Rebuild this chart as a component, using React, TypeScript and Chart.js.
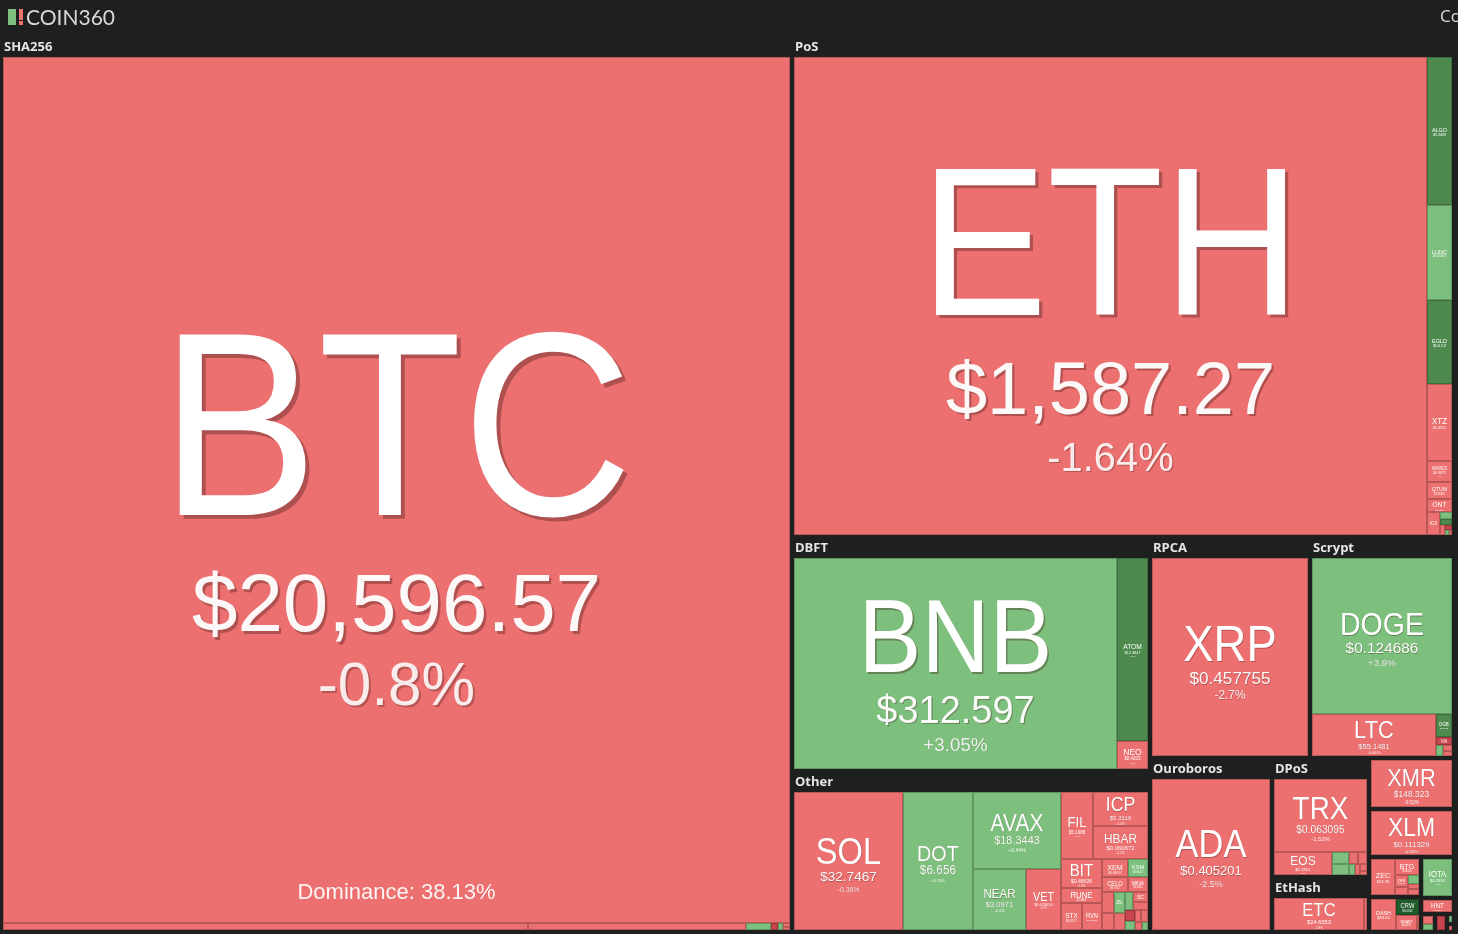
import React, { useEffect, useRef } from 'react';
import { Chart, registerables } from 'chart.js';

Chart.register(...registerables);

const CANVAS_W = 1458;
const CANVAS_H = 934;
const BG = '#1e2020';

// ---- groups (consensus algorithms) ----
const groupNames = [
  'SHA256', 'PoS', 'DBFT', 'Other', 'RPCA', 'Scrypt', 'Ouroboros', 'DPoS', 'EtHash',
  'CryptoNight', 'SCP', 'Equihash', 'X11', 'Tangle', 'PoC', 'Lyra2REv2', 'Blake256', 'Groestl', 'Keccak',
];

// ---- coins ----
const coinSymbols = [
  'BTC', 'BCH', 'BSV', 'XEC', 'FB', 'ELA', 'NMC', 'PPC',
  'ETH', 'ALGO', 'LUNC', 'EGLD', 'XTZ', 'WAVES', 'QTUM', 'ONT', 'ICX', 'NULS', 'ARK', 'STRAX', 'WAN', 'IOST', 'ARDR',
  'BNB', 'ATOM', 'NEO',
  'SOL', 'DOT', 'AVAX', 'NEAR', 'VET', 'FIL', 'ICP', 'HBAR', 'BIT', 'RUNE', 'STX', 'RVN', 'XEM', 'CELO', 'KSM',
  'MINA', 'KLAY', 'ZIL', 'KAVA', 'ONE', 'FLUX', 'SC', 'GLMR', 'KDA', 'SYS', 'HIVE', 'XDC', 'ROSE', 'LSK',
  'XRP',
  'DOGE', 'LTC', 'DGB', 'VIA', 'FTC', 'XVG', 'EMC2',
  'ADA',
  'TRX', 'EOS', 'WAXP', 'STEEM', 'BTS', 'TLOS', 'GXC', 'BEAM', 'SBD', 'NAS',
  'ETC', 'UBQ',
  'XMR',
  'XLM',
  'ZEC', 'BTG', 'ZEN', 'KMD', 'ZCL', 'ZER', 'BTCZ',
  'DASH', 'CRW', 'SMART', 'XVC',
  'IOTA',
  'HNT',
  'VTC', 'MONA',
  'DCR',
  'GRS',
  'SMT',
];

const coinGroup = [
  0, 0, 0, 0, 0, 0, 0, 0,
  1, 1, 1, 1, 1, 1, 1, 1, 1, 1, 1, 1, 1, 1, 1,
  2, 2, 2,
  3, 3, 3, 3, 3, 3, 3, 3, 3, 3, 3, 3, 3, 3, 3,
  3, 3, 3, 3, 3, 3, 3, 3, 3, 3, 3, 3, 3, 3,
  4,
  5, 5, 5, 5, 5, 5, 5,
  6,
  7, 7, 7, 7, 7, 7, 7, 7, 7, 7,
  8, 8,
  9,
  10,
  11, 11, 11, 11, 11, 11, 11,
  12, 12, 12, 12,
  13,
  14,
  15, 15,
  16,
  17,
  18,
];

// market capitalisation, billions of USD (estimated from tile areas)
const coinValues = [
  391.9, 2.12, 0.88, 0.1, 0.03, 0.02, 0.015, 0.01,
  178.2, 2.175, 1.4, 1.235, 1.13, 0.31, 0.26, 0.19, 0.175, 0.05, 0.04, 0.03, 0.02, 0.015, 0.01,
  42.66, 3.54, 0.545,
  9.9, 6.36, 4.46, 2.13, 1.41, 1.39, 1.2, 1.18, 0.79, 0.4, 0.37, 0.34, 0.31, 0.26, 0.24,
  0.2, 0.17, 0.15, 0.13, 0.12, 0.1, 0.09, 0.08, 0.07, 0.06, 0.05, 0.05, 0.04, 0.03,
  19.75,
  14.0, 3.34, 0.233, 0.08, 0.05, 0.04, 0.03,
  11.86,
  4.85, 0.963, 0.15, 0.13, 0.08, 0.07, 0.05, 0.04, 0.03, 0.02,
  2.87, 0.08,
  2.4,
  2.31,
  0.59, 0.25, 0.1, 0.07, 0.06, 0.04, 0.04,
  0.55, 0.25, 0.2, 0.02,
  0.76,
  0.3,
  0.08, 0.06,
  0.12,
  0.04,
  0.03,
];

const coinPrices = [
  '$20,596.57', '$112.46', '$45.82', '$0.0000358', '$0.3012', '$1.6301', '$0.9512', '$0.3054',
  '$1,587.27', '$0.3469', '$0.000247', '$54.52', '$1.4512', '$3.9872', '$2.8461', '$0.2137', '$0.2513', '$0.1224', '$0.3391', '$0.6012', '$0.2374', '$0.0112', '$0.0924',
  '$312.597', '$12.3847', '$8.4203',
  '$32.7467', '$6.656', '$18.3443', '$3.0971', '$0.023614', '$5.1988', '$5.3116', '$0.060672', '$0.48626', '$1.3368', '$0.3127', '$0.02893', '$0.03917', '$0.7712', '$36.52',
  '$0.6311', '$0.2188', '$0.0297', '$1.4521', '$0.0213', '$0.6987', '$0.0038', '$0.4319', '$1.6301', '$0.1301', '$0.4512', '$0.0291', '$0.0553', '$0.9834',
  '$0.457755',
  '$0.124686', '$55.1481', '$0.0102', '$0.0321', '$0.0121', '$0.0034', '$0.0412',
  '$0.405201',
  '$0.063095', '$1.1851', '$0.0631', '$0.2212', '$0.0098', '$0.1923', '$0.5113', '$0.0712', '$2.4112', '$0.0412',
  '$24.6553', '$0.0612',
  '$148.323',
  '$0.111329',
  '$53.76', '$18.02', '$13.42', '$0.2612', '$0.0521', '$0.0912', '$0.0001',
  '$43.65', '$0.0312', '$0.0021', '$0.0311',
  '$0.2651',
  '$4.3218',
  '$0.2318', '$0.3512',
  '$28.41',
  '$0.3021',
  '$0.0112',
];

// 24h change, percent
const coinChanges = [
  -0.8, -1.21, -0.93, 1.2, -5.6, 1.1, -0.3, -2.4,
  -1.64, 6.1, 2.4, 5.6, -2.1, -1.0, -1.5, -1.8, -2.0, 1.0, 7.0, -3.0, -6.0, 1.5, -1.0,
  3.05, 5.8, -1.1,
  -0.39, 0.76, 0.44, 0.6, -1.9, -1.5, -1.2, -1.1, -1.3, -2.0, -1.5, -2.2, -1.8, -2.5, 1.9,
  -1.2, -2.3, 2.1, -1.4, -0.8, 1.4, -1.1, -3.2, -6.5, 0.9, -1.7, -2.6, -0.5, 3.1,
  -2.7,
  3.9, -0.66, 5.4, -6.2, 1.3, -1.9, -2.8,
  -2.5,
  -1.52, -1.3, 2.2, 1.1, -1.6, -2.1, 0.8, -1.2, -0.4, -3.3,
  -1.8, -0.9,
  -0.52,
  -0.55,
  -1.3, -0.7, -1.9, -2.1, 1.8, -1.1, -3.0,
  -1.1, 12.4, -2.2, -1.0,
  1.6,
  -2.4,
  -3.1, 1.2,
  -6.3,
  0.7,
  -1.4,
];

const dominanceCoin = 'BTC';
const dominanceLabel = 'Dominance: 38.13%';
const logoText = 'COIN360';
const topRightText = 'Coins';

// ---- helpers ----
const FONT = '"Liberation Sans", Arial, sans-serif';
const SYMBOL_SCALE_X = 0.9;

function colorFor(chg: number): string {
  if (chg >= 10) return '#1f5b2b';
  if (chg >= 5) return '#4e8a4e';
  if (chg >= 0) return '#7dbf7d';
  if (chg > -5) return '#ec706f';
  if (chg > -10) return '#c8444e';
  return '#8f2b33';
}

function fmtChange(c: number): string {
  return (c > 0 ? '+' : '') + String(c) + '%';
}

type Rect = { x0: number; y0: number; x1: number; y1: number };

// binary treemap tiling (same rule as d3.treemapBinary)
function binaryLayout(values: number[], r: Rect): Rect[] {
  const n = values.length;
  const out: Rect[] = new Array(n);
  const sums = [0];
  for (let i = 0; i < n; i++) sums.push(sums[i] + values[i]);
  function partition(i: number, j: number, value: number, x0: number, y0: number, x1: number, y1: number) {
    if (i >= j - 1) {
      out[i] = { x0, y0, x1, y1 };
      return;
    }
    const valueOffset = sums[i];
    const valueTarget = value / 2 + valueOffset;
    let k = i + 1;
    let hi = j - 1;
    while (k < hi) {
      const mid = (k + hi) >>> 1;
      if (sums[mid] < valueTarget) k = mid + 1;
      else hi = mid;
    }
    if (valueTarget - sums[k - 1] < sums[k] - valueTarget && i + 1 < k) --k;
    const valueLeft = sums[k] - valueOffset;
    const valueRight = value - valueLeft;
    if (x1 - x0 > y1 - y0) {
      const xk = value ? (x0 * valueRight + x1 * valueLeft) / value : x1;
      partition(i, k, valueLeft, x0, y0, xk, y1);
      partition(k, j, valueRight, xk, y0, x1, y1);
    } else {
      const yk = value ? (y0 * valueRight + y1 * valueLeft) / value : y1;
      partition(i, k, valueLeft, x0, y0, x1, yk);
      partition(k, j, valueRight, x0, yk, x1, y1);
    }
  }
  partition(0, n, sums[n], r.x0, r.y0, r.x1, r.y1);
  return out;
}

function unitWidth(ctx: CanvasRenderingContext2D, t: string): number {
  ctx.font = `100px ${FONT}`;
  return ctx.measureText(t).width / 100;
}

function drawTile(ctx: CanvasRenderingContext2D, x0: number, y0: number, x1: number, y1: number, ci: number) {
  const w = x1 - x0;
  const h = y1 - y0;
  if (w <= 0 || h <= 0) return;
  ctx.fillStyle = colorFor(coinChanges[ci]);
  ctx.fillRect(x0, y0, w, h);
  ctx.strokeStyle = 'rgba(0,0,0,0.22)';
  ctx.lineWidth = 1;
  ctx.strokeRect(x0 + 0.5, y0 + 0.5, Math.max(0, w - 1), Math.max(0, h - 1));
  if (w < 10 || h < 8) return;

  const sym = coinSymbols[ci];
  const price = coinPrices[ci];
  const chg = fmtChange(coinChanges[ci]);
  const S = Math.min((0.6 * w) / (unitWidth(ctx, sym) * SYMBOL_SCALE_X), 0.58 * h);
  if (S < 4) return;
  const P = Math.min((0.52 * w) / unitWidth(ctx, price), 0.18 * h);
  const C = Math.min((0.2 * w) / unitWidth(ctx, chg), 0.1 * h, P);
  const showP = P >= 2;
  const showC = showP && C >= 2;

  const capS = 0.716 * S;
  let blockH = capS;
  if (showP) blockH += 0.22 * S + 0.716 * P;
  if (showC) blockH += 0.38 * P + 0.716 * C;
  const cx = (x0 + x1) / 2;
  const cy = (y0 + y1) / 2;
  const top = cy - blockH / 2 + (showP ? 0.1 * S : 0);

  ctx.save();
  ctx.beginPath();
  ctx.rect(x0, y0, w, h);
  ctx.clip();
  ctx.textAlign = 'center';
  ctx.textBaseline = 'alphabetic';
  ctx.fillStyle = '#ffffff';

  const shadow = (size: number) => {
    if (size >= 12) {
      ctx.shadowColor = 'rgba(60,20,20,0.35)';
      ctx.shadowOffsetX = size * 0.015;
      ctx.shadowOffsetY = size * 0.015;
      ctx.shadowBlur = 0;
    } else {
      ctx.shadowColor = 'rgba(0,0,0,0)';
    }
  };

  const symBase = top + capS;
  shadow(S);
  ctx.save();
  ctx.translate(cx, symBase);
  ctx.scale(SYMBOL_SCALE_X, 1);
  ctx.font = `${S}px ${FONT}`;
  ctx.fillText(sym, 0, 0);
  ctx.restore();

  if (showP) {
    const pBase = symBase + 0.22 * S + 0.716 * P;
    shadow(P * 2);
    ctx.font = `${P}px ${FONT}`;
    ctx.fillStyle = 'rgba(255,255,255,0.96)';
    ctx.fillText(price, cx, pBase);
    if (showC) {
      const cBase = pBase + 0.38 * P + 0.716 * C;
      shadow(C * 2);
      ctx.font = `${C}px ${FONT}`;
      ctx.fillStyle = 'rgba(255,255,255,0.88)';
      ctx.fillText(chg, cx, cBase);
    }
  }

  if (sym === dominanceCoin) {
    ctx.shadowColor = 'rgba(0,0,0,0)';
    ctx.font = `22px ${FONT}`;
    ctx.fillStyle = 'rgba(255,255,255,0.92)';
    ctx.fillText(dominanceLabel, cx, y1 - 24);
  }
  ctx.restore();
}

const treemapPlugin = {
  id: 'coinTreemap',
  afterDraw(chart: any) {
    const ctx: CanvasRenderingContext2D = chart.ctx;
    const xs = chart.scales.x;
    const ys = chart.scales.y;
    const X = (v: number) => Math.round(xs.getPixelForValue(v));
    const Y = (v: number) => Math.round(ys.getPixelForValue(v));

    ctx.save();
    ctx.fillStyle = BG;
    ctx.fillRect(0, 0, chart.width, chart.height);

    // top bar: logo
    ctx.fillStyle = '#7dbf7d';
    ctx.fillRect(8, 9, 8, 16);
    ctx.fillStyle = '#ec706f';
    ctx.fillRect(19, 9, 4, 11);
    ctx.fillRect(19, 21, 4, 4);
    ctx.fillStyle = '#d8d8d8';
    ctx.font = '21px Lato, "Open Sans", sans-serif';
    ctx.textBaseline = 'alphabetic';
    ctx.textAlign = 'left';
    ctx.fillText(logoText, 26, 25);
    ctx.font = '17px "Open Sans", sans-serif';
    ctx.fillStyle = '#dddddd';
    ctx.fillText(topRightText, 1440, 22);

    // groups
    const root: Rect = { x0: 1, y0: 36, x1: 1454, y1: 932 };
    const gVals = groupNames.map((_, g) =>
      coinValues.reduce((s, v, i) => (coinGroup[i] === g ? s + v : s), 0)
    );
    const order = groupNames.map((_, g) => g).sort((a, b) => gVals[b] - gVals[a]);
    const gRects = binaryLayout(order.map((g) => gVals[g]), root);

    order.forEach((g, idx) => {
      const R = gRects[idx];
      const hasHeader = R.y1 - R.y0 >= 52 && R.x1 - R.x0 >= 90;
      const inner: Rect = { x0: R.x0 + 2, y0: R.y0 + (hasHeader ? 21 : 2), x1: R.x1 - 2, y1: R.y1 - 2 };
      if (hasHeader) {
        ctx.save();
        ctx.beginPath();
        ctx.rect(X(R.x0), Y(R.y0), X(R.x1) - X(R.x0), Y(inner.y0) - Y(R.y0));
        ctx.clip();
        ctx.fillStyle = '#e6e6e6';
        ctx.font = 'bold 13px "Open Sans", sans-serif';
        ctx.textAlign = 'left';
        ctx.textBaseline = 'alphabetic';
        ctx.fillText(groupNames[g], X(R.x0) + 3, Y(R.y0) + 15);
        ctx.restore();
      }
      const members = coinSymbols
        .map((_, i) => i)
        .filter((i) => coinGroup[i] === g)
        .sort((a, b) => coinValues[b] - coinValues[a]);
      const cRects = binaryLayout(members.map((i) => coinValues[i]), inner);
      members.forEach((ci, k) => {
        const r = cRects[k];
        drawTile(ctx, X(r.x0), Y(r.y0), X(r.x1), Y(r.y1), ci);
      });
    });
    ctx.restore();
  },
};

export default function App() {
  const ref = useRef<HTMLCanvasElement>(null);
  useEffect(() => {
    const canvas = ref.current;
    if (!canvas) return;
    const chart = new Chart(canvas, {
      type: 'scatter',
      data: { datasets: [{ data: [] }] },
      options: {
        responsive: false,
        animation: false,
        devicePixelRatio: 1,
        layout: { padding: 0 },
        plugins: { legend: { display: false }, tooltip: { enabled: false } },
        scales: {
          x: { type: 'linear', display: false, min: 0, max: CANVAS_W },
          y: { type: 'linear', display: false, min: 0, max: CANVAS_H, reverse: true },
        },
      },
      plugins: [treemapPlugin],
    } as any);
    return () => chart.destroy();
  }, []);
  return (
    <div style={{ position: 'fixed', left: 0, top: 0, width: CANVAS_W, height: CANVAS_H, background: BG }}>
      <canvas ref={ref} width={CANVAS_W} height={CANVAS_H} style={{ display: 'block', width: CANVAS_W, height: CANVAS_H }} />
    </div>
  );
}
